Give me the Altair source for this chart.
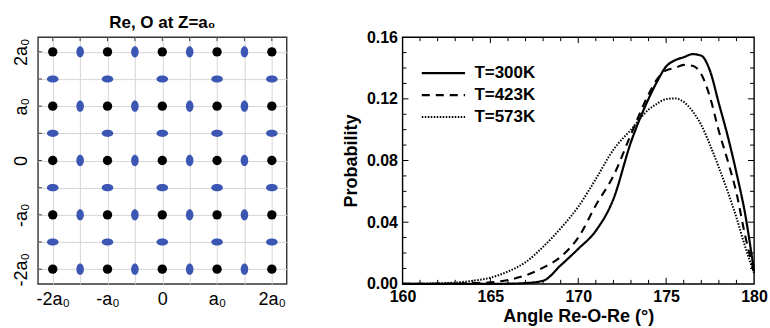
import altair as alt
import pandas as pd

FONT = "Liberation Sans"

# ---------------- Left panel: Re / O positions ----------------
re_sites = [-2, -1, 0, 1, 2]            # Re lattice coordinates (units of a0)
o_sites = [-1.5, -0.5, 0.5, 1.5]        # O mid-bond coordinates
grid_vals = [-2, -1.5, -1, -0.5, 0, 0.5, 1, 1.5, 2]
lattice_labels = {-2: "-2a₀", -1: "-a₀", 0: "0", 1: "a₀", 2: "2a₀"}

re_df = pd.DataFrame([{"x": x, "y": y} for x in re_sites for y in re_sites])
o_vert_df = pd.DataFrame([{"x": x, "y": y} for x in o_sites for y in re_sites])
o_horz_df = pd.DataFrame([{"x": x, "y": y} for x in re_sites for y in o_sites])
grid_df = pd.DataFrame({"x": grid_vals, "y": grid_vals})

label_expr = " : ".join(
    f"datum.value == {k} ? '{v}'" for k, v in lattice_labels.items()
) + " : ''"

LW, LH = 249, 247
ldom = alt.Scale(domain=[-2.27, 2.27], nice=False, zero=False)
lx = alt.X("x:Q", scale=ldom,
           axis=alt.Axis(values=grid_vals, labelExpr=label_expr, grid=True,
                         gridColor="#d6d6d6", gridWidth=1, ticks=False, domain=False,
                         labelFontSize=18, labelFont=FONT, labelColor="black",
                         labelPadding=7, title=None, labelFlush=False))
ly = alt.Y("y:Q", scale=ldom,
           axis=alt.Axis(values=grid_vals, labelExpr=label_expr, grid=True,
                         gridColor="#d6d6d6", gridWidth=1, ticks=False, domain=False,
                         labelFontSize=18, labelFont=FONT, labelColor="black",
                         labelAngle=-90, labelAlign="center", labelBaseline="bottom",
                         labelPadding=7, title=None, labelFlush=False))

ELL_V = "M0,-1 A0.66,1 0 1,1 0,1 A0.66,1 0 1,1 0,-1 Z"
ELL_H = "M-1,0 A1,0.62 0 1,1 1,0 A1,0.62 0 1,1 -1,0 Z"
BLUE = "#3b56b3"

re_layer = alt.Chart(re_df).mark_circle(size=88, color="black", opacity=1).encode(x=lx, y=ly)
ov_layer = alt.Chart(o_vert_df).mark_point(shape=ELL_V, size=130, filled=True,
                                           color=BLUE, opacity=1).encode(x=lx, y=ly)
oh_layer = alt.Chart(o_horz_df).mark_point(shape=ELL_H, size=135, filled=True,
                                           color=BLUE, opacity=1).encode(x=lx, y=ly)
ltick_left = alt.Chart(grid_df).mark_rule(color="#444", strokeWidth=1).encode(
    y=ly, x=alt.value(0), x2=alt.value(4))
ltick_top = alt.Chart(grid_df).mark_rule(color="#444", strokeWidth=1).encode(
    x=lx, y=alt.value(0), y2=alt.value(4))

left = alt.layer(oh_layer, ov_layer, re_layer, ltick_left, ltick_top).properties(
    width=LW, height=LH,
    title=alt.TitleParams(text="Re, O at Z=a₀", fontSize=17, fontWeight="bold",
                          font=FONT, color="black", offset=5, anchor="middle"),
    view=alt.ViewBackground(stroke="#333333", strokeWidth=1.4),
)

# ---------------- Right panel: angle distribution ----------------
angle = [160, 161, 162, 163, 164, 165, 166, 167, 168, 169, 170, 171, 172, 173, 174,
         174.5, 175, 175.5, 176, 176.5, 177, 177.5, 178, 178.5, 179, 179.5, 180]
p_300 = [0, 0, 0, 0, 0, 0, 0.0001, 0.0005, 0.002, 0.012, 0.0227, 0.0344, 0.055, 0.092, 0.120,
         0.1315, 0.141, 0.145, 0.147, 0.149, 0.148, 0.138, 0.117, 0.096, 0.072, 0.045, 0.008]
p_423 = [0, 0, 0, 0.0002, 0.0005, 0.001, 0.0025, 0.0055, 0.0105, 0.0175, 0.030, 0.051, 0.070,
         0.097, 0.1229, 0.133, 0.1385, 0.140, 0.142, 0.1415, 0.136, 0.121, 0.099, 0.080, 0.059,
         0.031, 0.008]
p_573 = [0, 0.0001, 0.0003, 0.0008, 0.002, 0.004, 0.008, 0.014, 0.024, 0.036, 0.050, 0.068,
         0.087, 0.100, 0.113, 0.117, 0.1198, 0.1203, 0.118, 0.112, 0.103, 0.090, 0.0755, 0.060,
         0.043, 0.024, 0.007]
series = ["T=300K", "T=423K", "T=573K"]

rows = []
for name, vals in zip(series, [p_300, p_423, p_573]):
    for a, p in zip(angle, vals):
        rows.append({"angle": a, "prob": p, "T": name})
curve_df = pd.DataFrame(rows)

x_major = [165, 170, 175]
x_minor = [161, 162, 163, 164, 166, 167, 168, 169, 171, 172, 173, 174, 176, 177, 178, 179]
y_major = [0.04, 0.08, 0.12]
y_minor = [0.01, 0.02, 0.03, 0.05, 0.06, 0.07, 0.09, 0.10, 0.11, 0.13, 0.14, 0.15]

RW, RH = 352, 247
xs = alt.Scale(domain=[160, 180], nice=False, zero=False)
ys = alt.Scale(domain=[0, 0.16], nice=False)
rx = alt.X("angle:Q", scale=xs,
           axis=alt.Axis(values=[160, 165, 170, 175, 180], format="d", grid=False,
                         ticks=False, domain=False, labelFontSize=16, labelFont=FONT,
                         labelFontWeight="bold", labelColor="black", labelPadding=5,
                         title="Angle Re-O-Re (°)", titleFontSize=18, titleFont=FONT,
                         titleFontWeight="bold", titleColor="black", titlePadding=3,
                         labelFlush=False))
ry = alt.Y("prob:Q", scale=ys,
           axis=alt.Axis(values=[0, 0.04, 0.08, 0.12, 0.16], format=".2f", grid=False,
                         ticks=False, domain=False, labelFontSize=16, labelFont=FONT,
                         labelFontWeight="bold", labelColor="black", labelPadding=5,
                         title="Probability", titleFontSize=18, titleFont=FONT,
                         titleFontWeight="bold", titleColor="black", titlePadding=6,
                         labelFlush=False))

lines = alt.Chart(curve_df).mark_line(color="black", interpolate="monotone").encode(
    x=rx, y=ry,
    strokeDash=alt.StrokeDash("T:N", scale=alt.Scale(domain=series,
                                                       range=[[1, 0], [8, 6], [1.5, 1.5]]),
                              legend=alt.Legend(orient="none", legendX=31, legendY=26,
                                                title=None, symbolType="M-2.5,0L2.5,0",
                                                symbolSize=300, symbolStrokeWidth=2,
                                                symbolStrokeColor="black",
                                                labelFontSize=17, labelFont=FONT,
                                                labelFontWeight="bold", labelColor="black",
                                                labelOffset=21, rowPadding=4, padding=0)),
    strokeWidth=alt.StrokeWidth("T:N", scale=alt.Scale(domain=series, range=[2.2, 2, 1.6]),
                                legend=None),
)


def tick_layer(vals, field, side, length):
    df = pd.DataFrame({field: vals})
    base = alt.Chart(df).mark_rule(color="black", strokeWidth=1)
    if side == "bottom":
        return base.encode(x=rx, y=alt.value(RH), y2=alt.value(RH - length))
    if side == "top":
        return base.encode(x=rx, y=alt.value(0), y2=alt.value(length))
    if side == "left":
        return base.encode(y=ry, x=alt.value(0), x2=alt.value(length))
    return base.encode(y=ry, x=alt.value(RW), x2=alt.value(RW - length))


ticks = []
for side in ["bottom", "top"]:
    ticks.append(tick_layer(x_major, "angle", side, 6))
    ticks.append(tick_layer(x_minor, "angle", side, 4))
for side in ["left", "right"]:
    ticks.append(tick_layer(y_major, "prob", side, 6))
    ticks.append(tick_layer(y_minor, "prob", side, 4))

right = alt.layer(lines, *ticks).properties(
    width=RW, height=RH,
    view=alt.ViewBackground(stroke="black", strokeWidth=1.4),
)

chart = alt.hconcat(left, right, spacing=54).resolve_legend(
    strokeDash="independent", strokeWidth="independent"
).properties(
    padding={"left": 12, "top": 12, "right": 1, "bottom": 2},
    background="white",
).configure_view(stroke="black")

chart.save("out.html", embed_options={"renderer": "svg", "actions": False})
